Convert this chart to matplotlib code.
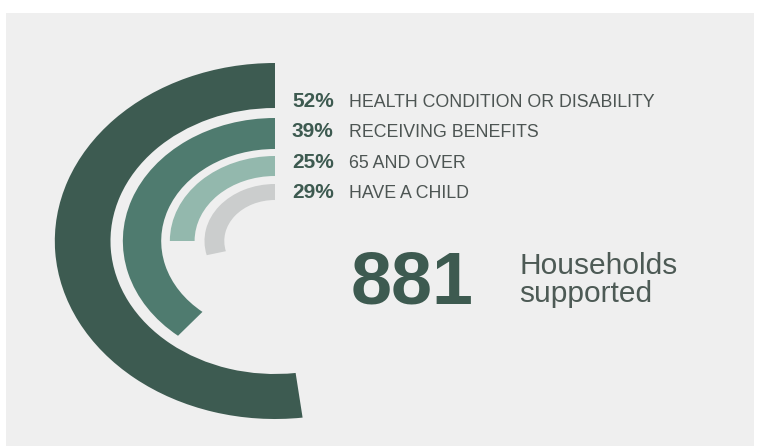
import matplotlib
matplotlib.use("Agg")
import matplotlib.pyplot as plt
from matplotlib.patches import Wedge, Rectangle
from matplotlib.transforms import Affine2D

# data
pcts = [52, 39, 25, 29]
labels = ["HEALTH CONDITION OR DISABILITY", "RECEIVING BENEFITS",
          "65 AND OVER", "HAVE A CHILD"]
total = 881
total_label = ["Households", "supported"]

# ring styling (radius in px, width in px)
ring_r = [178, 123, 85, 57]
ring_w = [45, 31, 20, 16]
ring_colors = ["#3d5b51", "#4f7b6f", "#93b8ad", "#cbcdcd"]

W, H = 762, 446
fig = plt.figure(figsize=(W / 100, H / 100), dpi=100)
fig.patch.set_facecolor("white")
ax = fig.add_axes([0, 0, 1, 1])
ax.set_xlim(0, W)
ax.set_ylim(H, 0)
ax.axis("off")

ax.add_patch(Rectangle((6, 13), 748, 440, color="#efefef", lw=0))

# the original is stretched horizontally -> draw circles, scale x
sx = 1.237
cx, cy = 275, 241
stretch = Affine2D().scale(sx, 1) + ax.transData
for p, r, w, c in zip(pcts, ring_r, ring_w, ring_colors):
    # y axis is inverted: screen top is data angle 270, screen ccw is data cw
    wd = Wedge((cx / sx, cy), r, 270 - p * 3.6, 270, width=w,
               facecolor=c, edgecolor="none", transform=stretch)
    ax.add_patch(wd)

font = "Liberation Sans"
baselines = [107, 137, 168, 198]
for p, lab, yb in zip(pcts, labels, baselines):
    ax.text(292, yb, f"{p}%", fontsize=15, fontweight="bold",
            color="#3d5a50", family=font, va="baseline", ha="left")
    ax.text(349, yb, lab, fontsize=12.8, color="#4d5553", family=font,
            va="baseline", ha="left")

ax.text(351, 303, str(total), fontsize=53, fontweight="bold",
        color="#3d5a50", family=font, va="baseline", ha="left")
ax.text(519, 274, total_label[0], fontsize=21.5, color="#4d5a55",
        family=font, va="baseline", ha="left")
ax.text(519, 302, total_label[1], fontsize=21.5, color="#4d5a55",
        family=font, va="baseline", ha="left")

fig.savefig("out.png", dpi=100)
